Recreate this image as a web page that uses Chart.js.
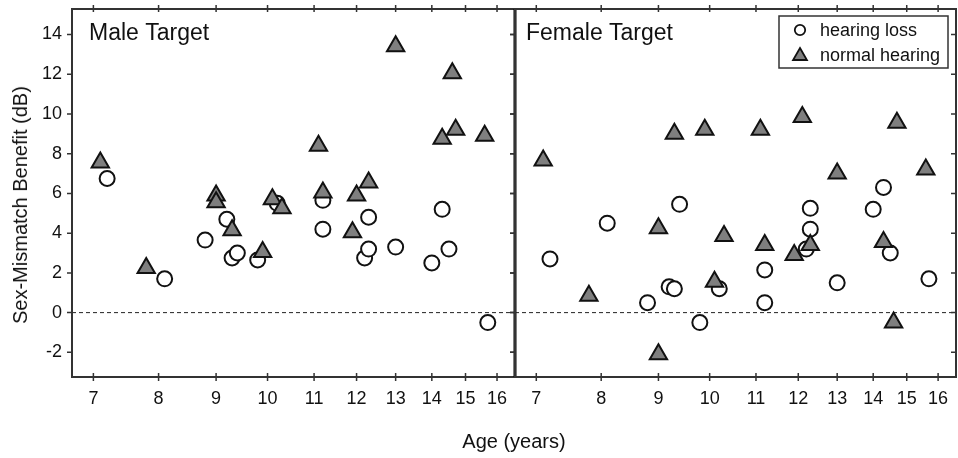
<!DOCTYPE html>
<html>
<head>
<meta charset="utf-8">
<title>Sex-Mismatch Benefit by Age</title>
<script src="https://cdn.jsdelivr.net/npm/chart.js"></script>
<style>
  body { margin: 0; background: #fff; }
  #wrap {
    position: relative;
    width: 958px;
    height: 458px;
    overflow: hidden;
    font-family: "Liberation Sans", Arial, sans-serif;
    color: #111;
  }
  canvas { position: absolute; top: -20px; }
  #leftChart { left: 0; }
  #rightChart { left: 495px; }
  .axis-title { position: absolute; font-size: 20px; line-height: 20px; white-space: nowrap; }
  #yTitle { left: 20px; top: 205px; transform: translate(-50%, -50%) rotate(-90deg); }
  #xTitle { left: 514px; top: 431px; transform: translateX(-50%); }
</style>
</head>
<body>
<div id="wrap">
  <canvas id="leftChart" width="535" height="478"></canvas>
  <canvas id="rightChart" width="481" height="478"></canvas>
  <div class="axis-title" id="yTitle">Sex-Mismatch Benefit (dB)</div>
  <div class="axis-title" id="xTitle">Age (years)</div>
</div>

<script>
    // tick labels
    const ageTicks = [7, 8, 9, 10, 11, 12, 13, 14, 15, 16];
    const benefitTicks = [-2, 0, 2, 4, 6, 8, 10, 12, 14];

    // Male target panel
    const maleLossAge     = [7.2, 8.1, 8.8, 9.2, 9.3, 9.4, 9.8, 10.2, 11.2, 11.2, 12.2, 12.3, 12.3, 13.0, 14.0, 14.3, 14.5, 15.7];
    const maleLossBenefit = [6.75, 1.7, 3.65, 4.7, 2.75, 3.0, 2.65, 5.5, 5.65, 4.2, 2.75, 3.2, 4.8, 3.3, 2.5, 5.2, 3.2, -0.5];
    const maleNormalAge     = [7.1, 7.8, 9.0, 9.0, 9.3, 9.9, 10.1, 10.3, 11.1, 11.2, 11.9, 12.0, 12.3, 13.0, 14.3, 14.6, 14.7, 15.6];
    const maleNormalBenefit = [7.55, 2.25, 5.9, 5.55, 4.15, 3.05, 5.7, 5.25, 8.4, 6.05, 4.05, 5.9, 6.55, 13.4, 8.75, 12.05, 9.2, 8.9];

    // Female target panel
    const femaleLossAge     = [7.2, 8.1, 8.8, 9.2, 9.3, 9.4, 9.8, 10.2, 11.2, 11.2, 12.2, 12.3, 12.3, 13.0, 14.0, 14.3, 14.5, 15.7];
    const femaleLossBenefit = [2.7, 4.5, 0.5, 1.3, 1.2, 5.45, -0.5, 1.2, 2.15, 0.5, 3.2, 4.2, 5.25, 1.5, 5.2, 6.3, 3.0, 1.7];
    const femaleNormalAge     = [7.1, 7.8, 9.0, 9.0, 9.3, 9.9, 10.1, 10.3, 11.1, 11.2, 11.9, 12.1, 12.3, 13.0, 14.3, 14.6, 14.7, 15.6];
    const femaleNormalBenefit = [7.65, 0.85, 4.25, -2.1, 9.0, 9.2, 1.55, 3.85, 9.2, 3.4, 2.9, 9.85, 3.4, 7.0, 3.55, -0.5, 9.55, 7.2];

    const FONT = '"Liberation Sans", Arial, sans-serif';
    Chart.defaults.font.family = FONT;
    Chart.defaults.color = '#111';

    function toPoints(xs, ys) {
        return xs.map((x, i) => ({ x: x, y: ys[i] }));
    }

    function makeDatasets(lossAge, lossBenefit, normalAge, normalBenefit) {
        return [
            {
                label: 'hearing loss',
                data: toPoints(lossAge, lossBenefit),
                pointStyle: 'circle',
                pointRadius: 7.5,
                pointBorderWidth: 2,
                pointBackgroundColor: '#ffffff',
                pointBorderColor: '#111111',
                order: 2
            },
            {
                label: 'normal hearing',
                data: toPoints(normalAge, normalBenefit),
                pointStyle: 'triangle',
                pointRadius: 10,
                pointBorderWidth: 2,
                pointBackgroundColor: '#7f7f7f',
                pointBorderColor: '#111111',
                order: 1
            }
        ];
    }

    // frame, tick marks, zero line and panel label
    const framePlugin = {
        id: 'frame',
        beforeDatasetsDraw(chart, args, opts) {
            const { ctx, chartArea: a, scales: { x, y } } = chart;
            ctx.save();

            const y0 = y.getPixelForValue(0);
            ctx.strokeStyle = '#222';
            ctx.lineWidth = 1;
            ctx.setLineDash([4, 3]);
            ctx.beginPath();
            ctx.moveTo(a.left, y0);
            ctx.lineTo(a.right, y0);
            ctx.stroke();
            ctx.setLineDash([]);

            ctx.strokeStyle = '#333';
            ctx.lineWidth = 1.5;
            ctx.beginPath();
            ageTicks.forEach(v => {
                const px = x.getPixelForValue(v);
                ctx.moveTo(px, a.top - 4);
                ctx.lineTo(px, a.top + 3);
                ctx.moveTo(px, a.bottom - 4);
                ctx.lineTo(px, a.bottom + 4);
            });
            benefitTicks.forEach(v => {
                const py = y.getPixelForValue(v);
                ctx.moveTo(a.left - 5, py);
                ctx.lineTo(a.left + 1, py);
                ctx.moveTo(a.right - 5, py);
                ctx.lineTo(a.right + 1, py);
            });
            ctx.stroke();

            ctx.lineWidth = 2;
            ctx.strokeRect(a.left, a.top, a.right - a.left, a.bottom - a.top);
            if (opts.heavyRight) {
                ctx.strokeStyle = '#000';
                ctx.lineWidth = 3;
                ctx.beginPath();
                ctx.moveTo(a.right, a.top);
                ctx.lineTo(a.right, a.bottom);
                ctx.stroke();
            }

            ctx.fillStyle = '#111';
            ctx.font = '23px ' + FONT;
            ctx.textBaseline = 'alphabetic';
            ctx.textAlign = 'left';
            ctx.fillText(opts.title, a.left + opts.titleDx, a.top + 31);
            ctx.restore();
        }
    };

    // boxed legend in the top right corner
    const boxLegendPlugin = {
        id: 'boxLegend',
        afterDatasetsDraw(chart, args, opts) {
            if (!opts.show) return;
            const { ctx, chartArea: a } = chart;
            const w = 169, h = 52;
            const bx = a.right - 8 - w, by = a.top + 7;
            ctx.save();
            ctx.fillStyle = '#fff';
            ctx.fillRect(bx, by, w, h);
            ctx.strokeStyle = '#333';
            ctx.lineWidth = 1.5;
            ctx.strokeRect(bx, by, w, h);

            ctx.font = '18px ' + FONT;
            ctx.textBaseline = 'middle';
            ctx.textAlign = 'left';
            chart.data.datasets.forEach((ds, i) => {
                const cy = by + 14 + i * 25;
                const cx = bx + 21;
                ctx.lineWidth = 1.8;
                ctx.strokeStyle = ds.pointBorderColor;
                ctx.fillStyle = ds.pointBackgroundColor;
                ctx.beginPath();
                if (ds.pointStyle === 'triangle') {
                    const r = 8;
                    for (let k = 0; k < 3; k++) {
                        const ang = k * 2 * Math.PI / 3;
                        const px = cx + Math.sin(ang) * r;
                        const py = cy + 1 - Math.cos(ang) * r;
                        if (k === 0) ctx.moveTo(px, py); else ctx.lineTo(px, py);
                    }
                    ctx.closePath();
                } else {
                    ctx.arc(cx, cy, 5.2, 0, Math.PI * 2);
                }
                ctx.fill();
                ctx.stroke();
                ctx.fillStyle = '#111';
                ctx.fillText(ds.label, bx + 41, cy + 1);
            });
            ctx.restore();
        }
    };

    // generous layout padding soaks up the tick label overhang,
    // so the plot area lands exactly where the canvas offsets put it
    function panelOptions(isLeft, title, titleDx) {
        return {
            responsive: false,
            animation: false,
            layout: {
                padding: isLeft
                    ? { top: 29, right: 20, bottom: 0, left: 0 }
                    : { top: 29, right: 20, bottom: 0, left: 20 }
            },
            plugins: {
                legend: { display: false },
                tooltip: { enabled: false },
                frame: { title: title, titleDx: titleDx, heavyRight: isLeft },
                boxLegend: { show: !isLeft }
            },
            scales: {
                x: {
                    type: 'logarithmic',
                    min: 6.7,
                    max: 16.6,
                    bounds: 'data',
                    afterBuildTicks: s => { s.ticks = ageTicks.map(v => ({ value: v })); },
                    ticks: {
                        autoSkip: false,
                        maxRotation: 0,
                        padding: 11,
                        font: { size: 18 },
                        callback: v => String(v)
                    },
                    grid: { display: false, drawTicks: false },
                    border: { display: false },
                    afterFit: s => { s.height = 81; }
                },
                y: {
                    type: 'linear',
                    min: -3.24,
                    max: 15.28,
                    bounds: 'data',
                    display: isLeft,
                    afterBuildTicks: s => { s.ticks = benefitTicks.map(v => ({ value: v })); },
                    ticks: {
                        padding: 10,
                        font: { size: 18 }
                    },
                    grid: { display: false, drawTicks: false },
                    border: { display: false },
                    afterFit: s => { if (isLeft) s.width = 72; }
                }
            }
        };
    }

    new Chart(document.getElementById('leftChart'), {
        type: 'scatter',
        data: { datasets: makeDatasets(maleLossAge, maleLossBenefit, maleNormalAge, maleNormalBenefit) },
        options: panelOptions(true, 'Male Target', 17),
        plugins: [framePlugin, boxLegendPlugin]
    });

    new Chart(document.getElementById('rightChart'), {
        type: 'scatter',
        data: { datasets: makeDatasets(femaleLossAge, femaleLossBenefit, femaleNormalAge, femaleNormalBenefit) },
        options: panelOptions(false, 'Female Target', 11),
        plugins: [framePlugin, boxLegendPlugin]
    });
</script>
</body>
</html>
